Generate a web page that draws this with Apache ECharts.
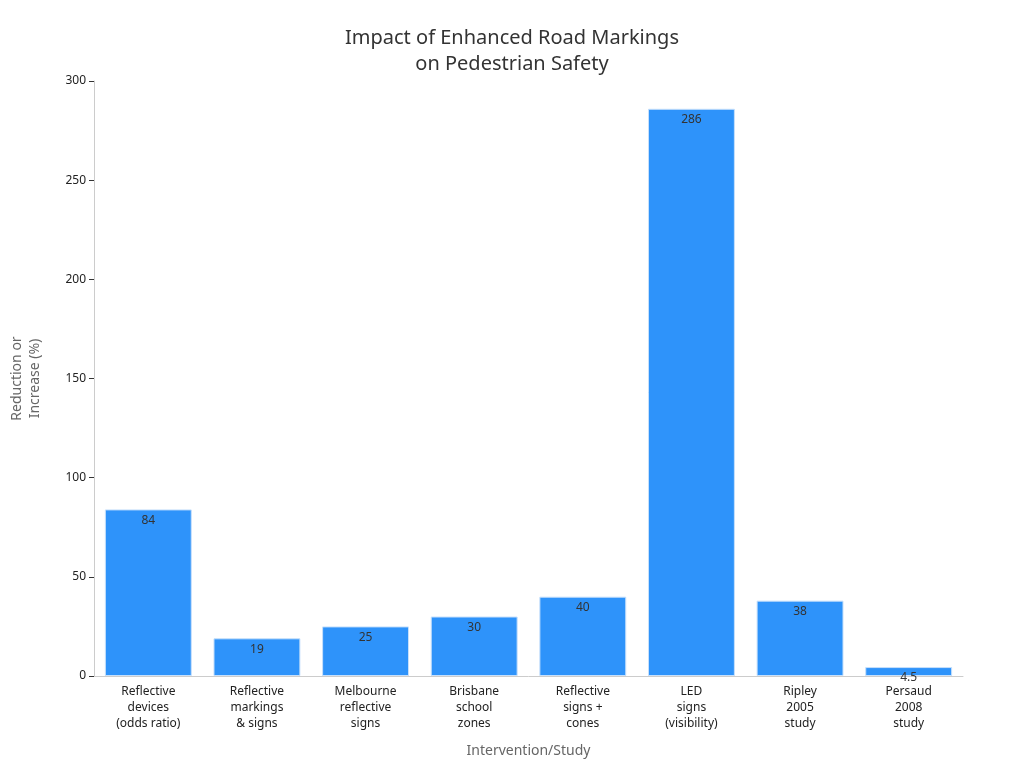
<!DOCTYPE html>
<html><head><meta charset="utf-8">
<script src="https://cdn.jsdelivr.net/npm/echarts@6/dist/echarts.min.js"></script>
<style>html,body{margin:0;padding:0}#c{width:1024px;height:768px}</style>
</head><body><div id="c"></div>
<script>
const categories = ["Reflective\ndevices\n(odds ratio)","Reflective\nmarkings\n& signs","Melbourne\nreflective\nsigns","Brisbane\nschool\nzones","Reflective\nsigns +\ncones","LED\nsigns\n(visibility)","Ripley\n2005\nstudy","Persaud\n2008\nstudy"];
const values = [84, 19, 25, 30, 40, 286, 38, 4.5];
const chart = echarts.init(document.getElementById('c'));
chart.setOption({
  textStyle:{fontFamily:'Noto Sans'},
  title:{text:'Impact of Enhanced Road Markings\non Pedestrian Safety',left:'center',top:20,textStyle:{fontSize:20,fontWeight:'normal',color:'#333',lineHeight:26}},
  grid:{left:86,right:61,top:81,bottom:92},
  xAxis:{type:'category',data:categories,name:'Intervention/Study',nameLocation:'middle',nameGap:68,
    nameTextStyle:{fontSize:14,color:'#666'},
    axisLine:{lineStyle:{color:'#ccc'}},axisTick:{alignWithLabel:true,lineStyle:{color:'#333'}},
    axisLabel:{color:'#222',fontSize:12,lineHeight:16,interval:0}},
  yAxis:{type:'value',min:0,max:300,interval:50,name:'Reduction or\nIncrease (%)',nameLocation:'middle',nameGap:50,
    nameTextStyle:{fontSize:14,color:'#666',lineHeight:18},
    axisLine:{show:true,lineStyle:{color:'#ccc'}},axisTick:{show:true,lineStyle:{color:'#333'}},
    axisLabel:{color:'#222',fontSize:12},splitLine:{show:false}},
  series:[{type:'bar',data:values,barWidth:'80%',
    itemStyle:{color:'#2e93fa',borderColor:'#c7e0fb',borderWidth:1},
    label:{show:true,position:'insideTop',color:'#333',fontSize:12}}]
});
</script></body></html>
